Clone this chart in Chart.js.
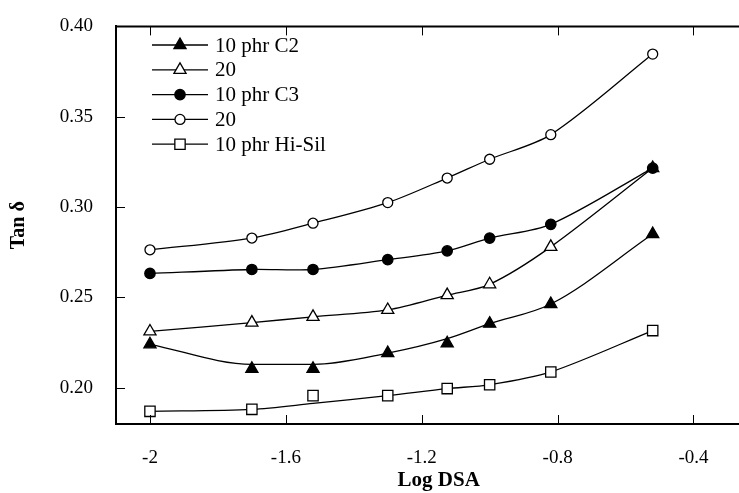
<!DOCTYPE html>
<html>
<head>
<meta charset="UTF-8">
<title>Tan delta vs Log DSA</title>
<script src="https://cdn.jsdelivr.net/npm/chart.js@4/dist/chart.umd.min.js"></script>
<style>
html,body{margin:0;padding:0;background:#fff;overflow:hidden;}
#wrap{position:absolute;left:0;top:0;width:770px;height:493px;}
</style>
</head>
<body>
<div id="wrap"><canvas id="c"></canvas></div>
<script>
// ===== DATA =====
const logDSA = [-2, -1.7, -1.52, -1.3, -1.125, -1, -0.82, -0.52];

const c2_10   = [0.2241, 0.2105, 0.2105, 0.2192, 0.2246, 0.2355, 0.2464, 0.2851];
const c2_10Fit = [0.2241, 0.2130, 0.2130, 0.2192, 0.2272, 0.2355, 0.2464, 0.2851];
const c2_20   = [0.2312, 0.2361, 0.2393, 0.2431, 0.2513, 0.2573, 0.2780, 0.3216];
const c3_10   = [0.2633, 0.2655, 0.2655, 0.2709, 0.2758, 0.2829, 0.2905, 0.3216];
const c3_20   = [0.2764, 0.2829, 0.2911, 0.3025, 0.3161, 0.3265, 0.3401, 0.3847];
const hiSil   = [0.1870, 0.1881, 0.1957, 0.1957, 0.1996, 0.2017, 0.2088, 0.2317];
const hiSilFit = [0.1870, 0.1881, 0.1914, 0.1957, 0.1996, 0.2017, 0.2088, 0.2317];

const legendLabels = ['10 phr C2', '20', '10 phr C3', '20', '10 phr Hi-Sil'];
const xTicks = [-2, -1.6, -1.2, -0.8, -0.4];
const xTickLabels = ['-2', '-1.6', '-1.2', '-0.8', '-0.4'];
const yTicks = [0.20, 0.25, 0.30, 0.35, 0.40];
const yTickLabels = ['0.20', '0.25', '0.30', '0.35', '0.40'];

// marker styles per series (same order as legend)
const styles = [
  {pointStyle:'triangle', radius:7, fill:'#000'},
  {pointStyle:'triangle', radius:7, fill:'#fff'},
  {pointStyle:'circle',   radius:5.2, fill:'#000'},
  {pointStyle:'circle',   radius:5, fill:'#fff'},
  {pointStyle:'rect',     radius:7.3, fill:'#fff'}
];

const pts = arr => logDSA.map((x,i)=>({x:x, y:arr[i]}));

function lineSet(arr, mode){
  return {type:'line', data:pts(arr), borderColor:'#000', borderWidth:1.3,
          pointRadius:0, tension:0.3, cubicInterpolationMode:mode || 'default', fill:false};
}
function markerSet(arr, st, withLine){
  return {type:'line', data:pts(arr), showLine:withLine, borderColor:'#000', borderWidth:1.3,
          tension:0.3, fill:false,
          pointStyle:st.pointStyle, pointRadius:st.radius, pointHoverRadius:st.radius,
          pointBackgroundColor:st.fill, pointBorderColor:'#000', pointBorderWidth:1.3};
}

const datasets = [
  markerSet(c2_10, styles[0], false),
  markerSet(hiSil, styles[4], false),
  markerSet(c3_10, styles[2], true),
  markerSet(c2_20, styles[1], true),
  markerSet(c3_20, styles[3], true),
  lineSet(c2_10Fit, 'monotone'),
  lineSet(hiSilFit)
];

// ===== PLUGINS =====
const frame = {
  id:'frame',
  afterDraw(chart){
    const {ctx, chartArea:a, scales:{x, y}} = chart;
    ctx.save();
    ctx.strokeStyle = '#000';
    ctx.lineWidth = 2;
    ctx.beginPath();
    ctx.moveTo(a.left - 1, a.top);
    ctx.lineTo(a.right, a.top);
    ctx.stroke();
    ctx.lineWidth = 1;
    ctx.beginPath();
    yTicks.forEach(v=>{
      const py = Math.round(y.getPixelForValue(v)) + 0.5;
      ctx.moveTo(a.left, py); ctx.lineTo(a.left + 9, py);
    });
    xTicks.forEach(v=>{
      const px = Math.round(x.getPixelForValue(v)) + 0.5;
      ctx.moveTo(px, a.bottom); ctx.lineTo(px, a.bottom - 9);
      ctx.moveTo(px, a.top); ctx.lineTo(px, a.top + 9);
    });
    ctx.stroke();

    // legend inside the plot
    ctx.font = '21px "Liberation Serif"';
    ctx.textBaseline = 'middle';
    ctx.textAlign = 'left';
    legendLabels.forEach((lab,i)=>{
      const ly = 45 + i*24.8;
      ctx.lineWidth = 1.3;
      ctx.strokeStyle = '#000';
      ctx.beginPath(); ctx.moveTo(152, ly); ctx.lineTo(208, ly); ctx.stroke();
      ctx.fillStyle = styles[i].fill;
      Chart.helpers.drawPoint(ctx, {pointStyle:styles[i].pointStyle, radius:styles[i].radius,
        rotation:0, borderWidth:1.3}, 180, ly);
      ctx.fillStyle = '#000';
      ctx.fillText(lab, 215, ly + 1);
    });
    ctx.restore();
  }
};

Chart.defaults.font.family = '"Liberation Serif", "Times New Roman", serif';
Chart.defaults.color = '#000';

new Chart(document.getElementById('c'), {
  type:'line',
  data:{datasets:datasets},
  options:{
    responsive:true,
    maintainAspectRatio:false,
    animation:false,
    layout:{padding:{top:20, right:5, left:0, bottom:0}},
    plugins:{legend:{display:false}, tooltip:{enabled:false}},
    scales:{
      x:{
        type:'linear', min:-2.1, max:-0.2,
        grid:{display:false},
        border:{display:true, color:'#000', width:2},
        afterBuildTicks:s=>{ s.ticks = xTicks.map(v=>({value:v})); },
        afterFit:s=>{ s.height = 69; },
        ticks:{padding:15, font:{size:19}, maxRotation:0,
               callback:(v)=>xTickLabels[xTicks.indexOf(v)] ?? ''},
        title:{display:true, text:'Log DSA', font:{size:21, weight:'bold'},
               padding:{top:0, bottom:0}}
      },
      y:{
        type:'linear', min:0.18, max:0.40,
        grid:{display:false},
        border:{display:true, color:'#000', width:2},
        afterBuildTicks:s=>{ s.ticks = yTicks.map(v=>({value:v})); },
        afterFit:s=>{ s.width = 116; },
        ticks:{padding:15, font:{size:19},
               callback:(v)=>{ const k = yTicks.findIndex(t=>Math.abs(t-v)<1e-9); return k<0 ? '' : yTickLabels[k]; }},
        title:{display:true, text:'Tan δ', font:{size:20, weight:'bold'},
               padding:{top:7, bottom:0}}
      }
    }
  },
  plugins:[frame]
});
</script>
</body>
</html>
